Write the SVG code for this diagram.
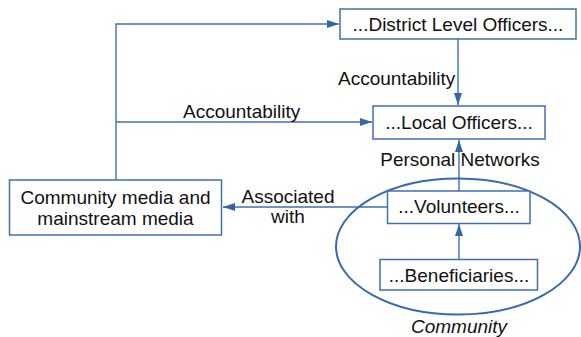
<svg xmlns="http://www.w3.org/2000/svg" width="581" height="337" viewBox="0 0 581 337">
<style>
.box{fill:#fff;stroke:#3f6fb0;stroke-width:1.5}
.ln{fill:none;stroke:#3f6fb0;stroke-width:1.4}
text{font-family:"Liberation Sans",Arial,sans-serif;font-size:19px;fill:#111}
</style>
<defs>
<marker id="ah" markerWidth="12" markerHeight="8" refX="12" refY="4" orient="auto" markerUnits="userSpaceOnUse">
<path d="M0,0 L12,4 L0,8 Z" fill="#3465a4"/>
</marker>
</defs>
<rect width="581" height="337" fill="#fff"/>
<g id="connectors">
<polyline class="ln" points="116,180 116,24 339,24" marker-end="url(#ah)"/>
<line class="ln" x1="116" y1="122" x2="372" y2="122" marker-end="url(#ah)"/>
<line class="ln" x1="458" y1="39" x2="458" y2="105" marker-end="url(#ah)"/>
<line class="ln" x1="459" y1="191" x2="459" y2="140" marker-end="url(#ah)"/>
<line class="ln" x1="459" y1="259" x2="459" y2="224" marker-end="url(#ah)"/>
<line class="ln" x1="387" y1="207" x2="223" y2="207" marker-end="url(#ah)"/>
<text x="183" y="118">Accountability</text>
<text x="338" y="85">Accountability</text>
<text x="460" y="166" text-anchor="middle">Personal Networks</text>
<text x="288" y="203" text-anchor="middle">Associated</text>
<text x="288" y="223" text-anchor="middle">with</text>
</g>
<g id="community">
<ellipse cx="458" cy="246.5" rx="122" ry="68" fill="none" stroke="#3a69ab" stroke-width="2"/>
<text x="459" y="333" text-anchor="middle" font-style="italic">Community</text>
</g>
<g id="district">
<rect class="box" x="340" y="9" width="236" height="30"/>
<text x="458" y="31" text-anchor="middle">...District Level Officers...</text>
</g>
<g id="local">
<rect class="box" x="373" y="106" width="172" height="33"/>
<text x="459" y="129" text-anchor="middle">...Local Officers...</text>
</g>
<g id="media">
<rect class="box" x="9.5" y="180" width="212" height="55"/>
<text x="115.5" y="204" text-anchor="middle">Community media and</text>
<text x="115.5" y="225" text-anchor="middle">mainstream media</text>
</g>
<g id="volunteers">
<rect class="box" x="387.5" y="191" width="142.5" height="32.5"/>
<text x="459" y="213" text-anchor="middle">...Volunteers...</text>
</g>
<g id="beneficiaries">
<rect class="box" x="380" y="259.5" width="157.5" height="30.5"/>
<text x="459" y="282" text-anchor="middle">...Beneficiaries...</text>
</g>
</svg>
